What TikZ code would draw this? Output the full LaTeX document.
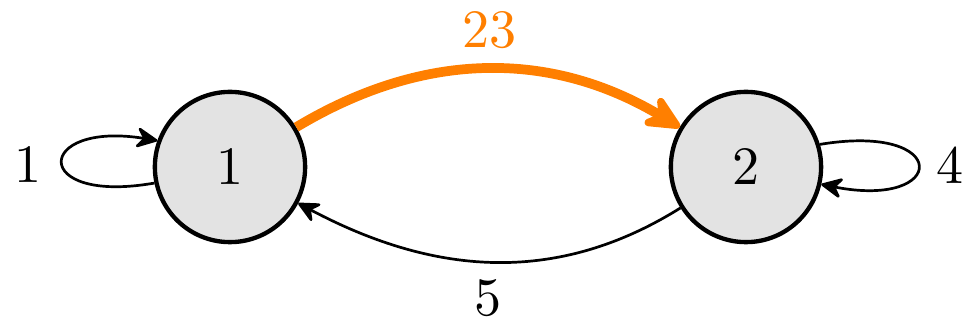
\documentclass[tikz,border=0pt]{standalone}
\usetikzlibrary{arrows.meta}
\definecolor{myorange}{RGB}{255,127,0}
\begin{document}
\begin{tikzpicture}[x=0.185pt,y=0.185pt,
  state/.style={circle,draw,line width=0.8pt,fill=black!11,minimum size=27.8pt,inner sep=0pt},
  edge/.style={line width=0.5pt,-{Stealth[length=4.6pt,width=4.4pt,inset=1.6pt,round]}},
  hot/.style={line width=1.8pt,-{Stealth[length=8.5pt,width=8pt,inset=3pt,round]},draw=myorange},
  lbl/.style={inner sep=0pt}]
\useasboundingbox (0,0) rectangle (965,325);
\node[state] (n1) at (230,158) {1};
\node[state] (n2) at (746,158) {2};
\draw[hot] (n1) to[out=31,in=149] (n2);
\draw[edge] (n2) to[out=212,in=-28] (n1);
\draw[edge] (n1.192) .. controls +(-125,-22) and +(-123,20) .. (n1.160);
\draw[edge] (n2.17) .. controls +(132,22) and +(127,-25) .. (n2.-13);
\node[lbl,text=myorange] (l23) at (490,295) {23};
\node[lbl] (l5) at (488,27) {5};
\node[lbl] (la) at (28,160) {1};
\node[lbl] (lb) at (950,160) {4};
\end{tikzpicture}
\end{document}
